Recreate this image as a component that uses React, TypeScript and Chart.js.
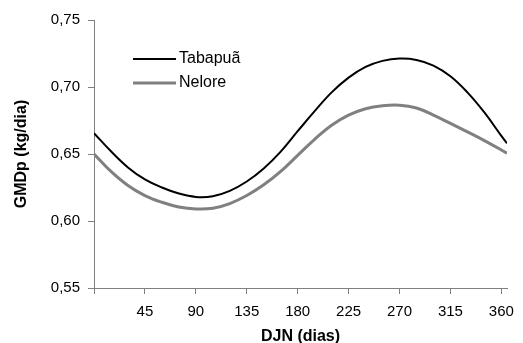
import React, { useEffect, useRef } from "react";
import { Chart, registerables } from "chart.js";

Chart.register(...registerables);

const days = [0, 15, 30, 45, 60, 75, 90, 105, 120, 135, 150, 165, 180, 195, 210, 225, 240, 255, 270, 285, 300, 315, 330, 345, 360, 365];
const tabapua = [0.6655, 0.652, 0.640, 0.631, 0.625, 0.6205, 0.618, 0.6185, 0.6225, 0.6295, 0.6392, 0.6518, 0.667, 0.682, 0.696, 0.707, 0.715, 0.7195, 0.7212, 0.7202, 0.716, 0.708, 0.696, 0.681, 0.6635, 0.658];
const nelore = [0.650, 0.637, 0.6265, 0.619, 0.614, 0.6105, 0.609, 0.6095, 0.613, 0.619, 0.627, 0.637, 0.649, 0.661, 0.6715, 0.679, 0.6838, 0.686, 0.6864, 0.6843, 0.679, 0.6728, 0.6665, 0.66, 0.653, 0.6505];
const xTicks = [0, 45, 90, 135, 180, 225, 270, 315, 360];
const yTicks = [0.55, 0.6, 0.65, 0.7, 0.75];
const seriesNames = ["Tabapuã", "Nelore"];
const seriesColors = ["#000000", "#808080"];
const seriesWidths = [2, 3];

const FONT = "'Liberation Sans', Arial, sans-serif";

const legendPlugin = {
  id: "customLegend",
  afterDraw(chart: any) {
    const ctx = chart.ctx;
    ctx.save();
    const rows = [59, 83];
    seriesNames.forEach((name, i) => {
      const y = rows[i];
      ctx.strokeStyle = seriesColors[i];
      ctx.lineWidth = seriesWidths[i];
      ctx.beginPath();
      ctx.moveTo(133, y);
      ctx.lineTo(176, y);
      ctx.stroke();
      ctx.fillStyle = "#000";
      ctx.font = `16px ${FONT}`;
      ctx.textBaseline = "middle";
      ctx.textAlign = "left";
      ctx.fillText(name, 179, y);
    });
    ctx.restore();
  },
};

export default function App() {
  const ref = useRef<HTMLCanvasElement>(null);
  useEffect(() => {
    if (!ref.current) return;
    const chart = new Chart(ref.current, {
      type: "line",
      data: {
        datasets: [
          {
            label: seriesNames[0],
            data: days.map((d, i) => ({ x: d, y: tabapua[i] })),
            borderColor: seriesColors[0],
            borderWidth: seriesWidths[0],
            pointRadius: 0,
            tension: 0.4,
          },
          {
            label: seriesNames[1],
            data: days.map((d, i) => ({ x: d, y: nelore[i] })),
            borderColor: seriesColors[1],
            borderWidth: seriesWidths[1],
            pointRadius: 0,
            tension: 0.4,
          },
        ],
      },
      options: {
        responsive: false,
        animation: false,
        layout: { padding: { left: 0, top: 20, right: 10, bottom: 0 } },
        plugins: { legend: { display: false }, tooltip: { enabled: false } },
        scales: {
          x: {
            type: "linear",
            min: 0,
            max: 365,
            afterBuildTicks: (s: any) => {
              s.ticks = xTicks.map((v) => ({ value: v }));
            },
            afterFit: (s: any) => {
              s.height = 55;
            },
            grid: { drawOnChartArea: false, drawTicks: true, tickLength: 6, color: "#808080" },
            border: { color: "#808080", width: 1 },
            ticks: {
              color: "#000",
              font: { family: FONT, size: 15 },
              padding: 9,
              maxRotation: 0,
              callback: (v: any) => (v === 0 ? "" : String(v)),
            },
            title: {
              display: true,
              text: "DJN (dias)",
              color: "#000",
              font: { family: FONT, size: 16, weight: "bold", lineHeight: 0.75 },
              padding: 0,
            },
          },
          y: {
            min: 0.55,
            max: 0.75,
            afterBuildTicks: (s: any) => {
              s.ticks = yTicks.map((v) => ({ value: v }));
            },
            afterFit: (s: any) => {
              s.width = 94;
            },
            grid: { drawOnChartArea: false, drawTicks: true, tickLength: 6, color: "#808080" },
            border: { color: "#808080", width: 1 },
            ticks: {
              color: "#000",
              font: { family: FONT, size: 15 },
              padding: 8,
              callback: (v: any) => Number(v).toFixed(2).replace(".", ","),
            },
            title: {
              display: true,
              text: "GMDp (kg/dia)",
              color: "#000",
              font: { family: FONT, size: 16, weight: "bold", lineHeight: 1 },
              padding: { top: 14, bottom: 0 },
            },
          },
        },
      },
      plugins: [legendPlugin],
    } as any);
    return () => chart.destroy();
  }, []);
  return (
    <div style={{ position: "absolute", left: 0, top: 0, width: 523, height: 343, background: "#fff" }}>
      <canvas ref={ref} width={523} height={343} style={{ display: "block" }} />
    </div>
  );
}
